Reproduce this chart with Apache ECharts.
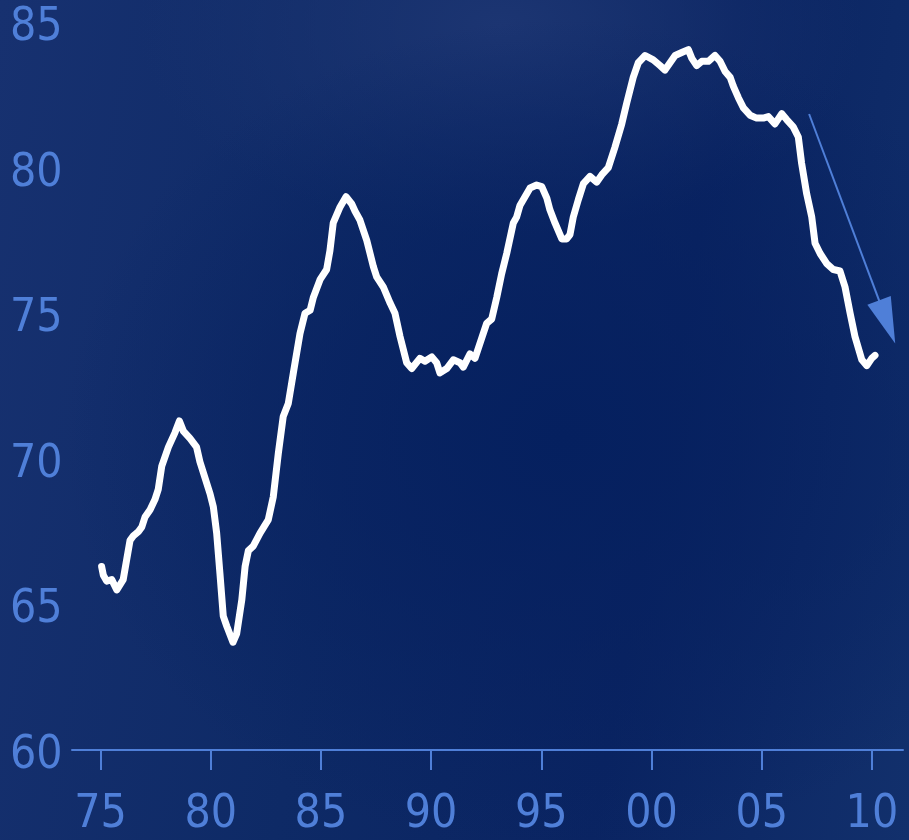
<!DOCTYPE html>
<html>
<head>
<meta charset="utf-8">
<script src="https://cdn.jsdelivr.net/npm/echarts@6/dist/echarts.min.js"></script>
<style>
  html, body { margin: 0; padding: 0; }
  #chart {
    width: 909px; height: 840px;
    background:
      radial-gradient(ellipse 55% 50% at 62% 52%, #05205f 0%, rgba(6,32,95,0.6) 45%, rgba(6,32,95,0) 100%),
      radial-gradient(ellipse 40% 25% at 55% 3%, #1c3572 0%, rgba(28,53,114,0) 100%),
      linear-gradient(100deg, #173170 0%, #0e2a66 40%, #0a2462 70%, #12306c 100%);
  }
</style>
</head>
<body>
<div id="chart"></div>
<script>
// Year (decimal) and value
const years = [
  1975.05, 1975.13, 1975.28, 1975.51, 1975.74, 1976.03, 1976.34, 1976.49, 1976.72, 1976.87,
  1977.02, 1977.25, 1977.47, 1977.62, 1977.78, 1978.08, 1978.38, 1978.58, 1978.76, 1979.06,
  1979.36, 1979.51, 1979.74, 1979.97, 1980.12, 1980.27, 1980.42, 1980.57, 1980.73, 1981.01,
  1981.18, 1981.41, 1981.56, 1981.71, 1981.93, 1982.24, 1982.61, 1982.84, 1983.07, 1983.29,
  1983.52, 1983.75, 1984.05, 1984.28, 1984.51, 1984.66, 1984.96, 1985.26, 1985.41, 1985.56,
  1985.87, 1986.14, 1986.40, 1986.55, 1986.77, 1987.08, 1987.38, 1987.53, 1987.83, 1988.14,
  1988.36, 1988.59, 1988.89, 1989.12, 1989.49, 1989.72, 1990.03, 1990.25, 1990.40, 1990.71,
  1991.01, 1991.31, 1991.46, 1991.76, 1991.99, 1992.30, 1992.52, 1992.75, 1992.98, 1993.20,
  1993.43, 1993.73, 1993.88, 1994.03, 1994.26, 1994.49, 1994.79, 1995.02, 1995.25, 1995.39,
  1995.62, 1995.93, 1996.15, 1996.30, 1996.45, 1996.68, 1996.91, 1997.21, 1997.51, 1997.74,
  1998.04, 1998.34, 1998.65, 1998.87, 1999.17, 1999.40, 1999.71, 2000.08, 2000.39, 2000.61,
  2000.84, 2001.07, 2001.37, 2001.67, 2001.83, 2002.05, 2002.28, 2002.58, 2002.88, 2003.11,
  2003.34, 2003.57, 2003.71, 2003.94, 2004.17, 2004.47, 2004.77, 2005.07, 2005.30, 2005.60,
  2005.91, 2006.13, 2006.43, 2006.66, 2006.81, 2007.04, 2007.27, 2007.42, 2007.65, 2007.95,
  2008.25, 2008.55, 2008.78, 2009.01, 2009.23, 2009.54, 2009.77, 2009.99, 2010.14
];
const values = [
  66.3, 66.0, 65.8, 65.85, 65.5, 65.85, 67.2, 67.35, 67.5, 67.65,
  68.0, 68.25, 68.6, 68.95, 69.75, 70.4, 70.9, 71.3, 70.95, 70.7,
  70.4, 69.9, 69.35, 68.8, 68.35, 67.45, 66.05, 64.6, 64.25, 63.7,
  64.0, 65.15, 66.3, 66.85, 67.0, 67.45, 67.9, 68.7, 70.2, 71.45,
  71.9, 72.95, 74.3, 75.0, 75.1, 75.55, 76.15, 76.5, 77.15, 78.1,
  78.65, 79.0, 78.75, 78.5, 78.2, 77.5, 76.6, 76.25, 75.9, 75.35,
  75.0, 74.2, 73.3, 73.1, 73.45, 73.35, 73.5, 73.3, 72.95, 73.1,
  73.4, 73.3, 73.15, 73.6, 73.45, 74.15, 74.65, 74.8, 75.55, 76.35,
  77.05, 78.1, 78.3, 78.7, 79.0, 79.3, 79.4, 79.35, 78.95, 78.55,
  78.1, 77.55, 77.55, 77.7, 78.3, 78.9, 79.45, 79.7, 79.5, 79.75,
  80.0, 80.7, 81.5, 82.2, 83.1, 83.6, 83.85, 83.7, 83.5, 83.35,
  83.6, 83.85, 83.95, 84.05, 83.75, 83.5, 83.65, 83.65, 83.85, 83.65,
  83.3, 83.1, 82.8, 82.4, 82.05, 81.8, 81.7, 81.7, 81.75, 81.5,
  81.85, 81.65, 81.4, 81.05, 80.15, 79.1, 78.3, 77.4, 77.05, 76.7,
  76.5, 76.45, 75.9, 75.0, 74.2, 73.4, 73.2, 73.45, 73.55
];
const xTicks = [1975, 1980, 1985, 1990, 1995, 2000, 2005, 2010];
const yTicks = [60, 65, 70, 75, 80, 85];
// Trend arrow annotation: start and end (year, value)
const arrowStart = [2007.15, 81.84];
const arrowEnd = [2010.69, 74.70];

const fontFam = "'Liberation Sans Narrow', 'DejaVu Sans Condensed', 'Noto Sans', sans-serif";
const blue = '#4f7fd8';

const chart = echarts.init(document.getElementById('chart'), null, { renderer: 'canvas' });
chart.setOption({
  backgroundColor: 'transparent',
  animation: false,
  grid: { left: 72, right: 6, top: 22, bottom: 90, containLabel: false },
  xAxis: {
    type: 'value',
    min: 1973.707,
    max: 2011.41,
    splitLine: { show: false },
    axisLine: { show: true, lineStyle: { color: blue, width: 2 } },
    axisTick: { show: true, length: 20, lineStyle: { color: blue, width: 2 }, customValues: xTicks },
    axisLabel: {
      customValues: xTicks,
      color: blue, fontSize: 46, fontFamily: fontFam, margin: 42,
      formatter: v => String(Math.round(v) % 100).padStart(2, '0')
    }
  },
  yAxis: {
    type: 'value',
    min: 60, max: 85, interval: 5,
    splitLine: { show: false },
    axisLine: { show: false },
    axisTick: { show: false },
    axisLabel: {
      color: blue, fontSize: 46, fontFamily: fontFam,
      align: 'left', verticalAlign: 'top', lineHeight: 12, margin: 62,
      customValues: yTicks
    }
  },
  series: [{
    type: 'line',
    data: years.map((y, i) => [y, values[i]]),
    showSymbol: false,
    symbol: 'none',
    lineStyle: { color: '#ffffff', width: 7, cap: 'round', join: 'round' },
    silent: true,
    markLine: {
      silent: true,
      symbol: ['none', 'triangle'],
      symbolSize: [25, 46],
      label: { show: false },
      lineStyle: { color: blue, width: 2, type: 'solid' },
      emphasis: { disabled: true },
      data: [[{ coord: arrowStart }, { coord: arrowEnd }]]
    }
  }]
});
</script>
</body>
</html>
